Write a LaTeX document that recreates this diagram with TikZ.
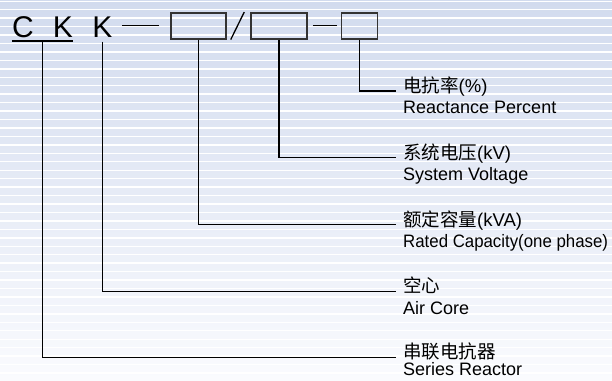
\documentclass[tikz,border=0pt]{standalone}
\usepackage{fontspec}
\setmainfont{Liberation Sans}
\newfontfamily\cjkfont{Noto Sans CJK SC}
\usepackage{xcolor}
\usetikzlibrary{positioning,calc}

\definecolor{bgtop}{RGB}{210,219,238}
\definecolor{bgbot}{RGB}{250,251,254}
\definecolor{boxline}{RGB}{51,51,51}

\begin{document}
\begin{tikzpicture}[x=1pt, y=-1pt,
    conn/.style={draw=black, line width=1.3pt},
    codebox/.style={draw=boxline, line width=1.5pt, rectangle, inner sep=0pt,
      minimum height=26pt},
    letter/.style={anchor=base, inner sep=0pt, font=\fontsize{30}{32}\selectfont},
    zh/.style={anchor=base west, inner sep=0pt, font=\fontsize{18.5}{20}\selectfont},
    en/.style={anchor=base west, inner sep=0pt, font=\fontsize{18}{20}\selectfont},
    stripe/.style={draw=white, line width=1.4pt}]
  \useasboundingbox (0,0) rectangle (612,380);

  % Background: light blue with white stripes
  \shade[top color=bgtop, bottom color=bgbot] (0,0) rectangle (612,380);
  \foreach \i in {0,...,44}
    \draw[stripe] (0,1.2+8.45*\i) -- (612,1.2+8.45*\i);

  % Model code
  \node[letter] (cc) at (23,37.5) {C};
  \node[letter] (k1) at (63,37.5) {K};
  \node[letter] (k2) at (102.5,37.5) {K};
  \node[codebox, minimum width=55pt] (bx1) at (198.5,25.8) {};
  \node[codebox, minimum width=56pt] (bx2) at (279,25.8) {};
  \node[codebox, minimum width=36pt] (bx3) at (359.5,25.8) {};

  % Underline under "C K"
  \draw[conn] ([yshift=-3.5pt]cc.base west) -- coordinate (ckmid)
    ([yshift=-3.5pt]k1.base east);
  % Dashes and slash
  \draw[conn] ([xshift=9.5pt]k2.east |- bx1.west) -- ([xshift=-11pt]bx1.west);
  \draw[conn] ([xshift=4pt]bx1.south east) -- ([xshift=-6pt]bx2.north west);
  \draw[conn] ([xshift=5pt]bx2.east) -- ([xshift=-4pt]bx3.west);

  % Labels
  \node[zh] (zh1) at (403,92.5) {{\cjkfont 电抗率}(\%)};
  \node[en] (en1) at (403,113.8) {Reactance Percent};
  \node[zh] (zh2) at (403,159.25) {{\cjkfont 系统电压}(kV)};
  \node[en] (en2) at (403,180.5) {System Voltage};
  \node[zh] (zh3) at (403,226) {{\cjkfont 额定容量}(kVA)};
  \node[en] (en3) at (403,247.2) {\scalebox{0.935}[1]{Rated Capacity(one phase)}};
  \node[zh] (zh4) at (403,292.75) {{\cjkfont 空心}};
  \node[en] (en4) at (403,314) {Air Core};
  \node[zh] (zh5) at (403,358) {{\cjkfont 串联电抗器}};
  \node[en] (en5) at (403,375.8) {Series Reactor};

  % Leader lines
  \draw[conn] (bx3.south) |- ([xshift=-7pt,yshift=1.5pt]zh1.base west);
  \draw[conn] (bx2.south) |- ([xshift=-7pt,yshift=1.5pt]zh2.base west);
  \draw[conn] (bx1.south) |- ([xshift=-7pt,yshift=1.5pt]zh3.base west);
  \draw[conn] ([yshift=-4pt]k2.south) |- ([xshift=-7pt,yshift=1.5pt]zh4.base west);
  \draw[conn] (ckmid) |- ([xshift=-7pt,yshift=0.5pt]zh5.base west);
\end{tikzpicture}
\end{document}
